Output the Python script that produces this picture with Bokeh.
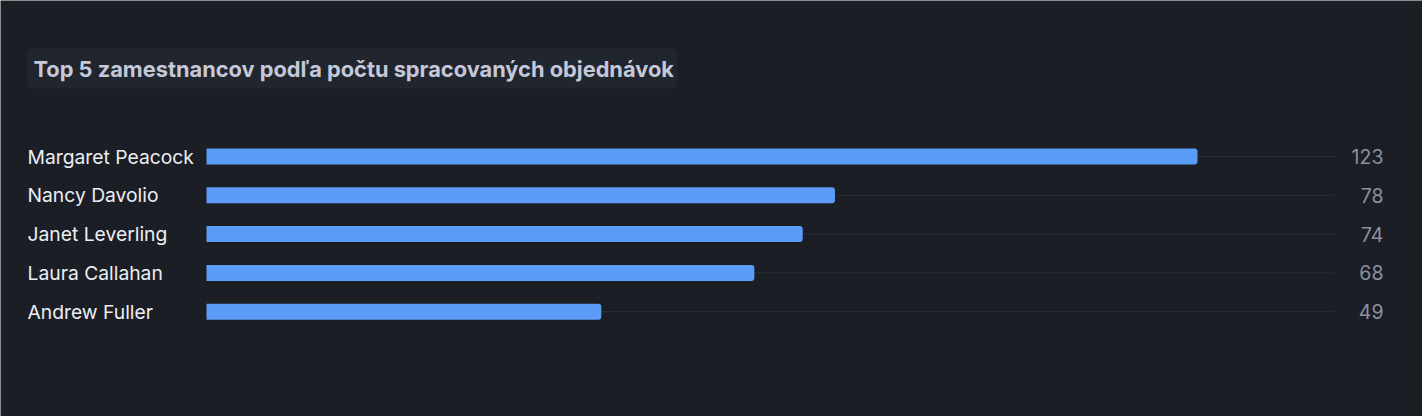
from bokeh.plotting import figure
from bokeh.models import Range1d, ColumnDataSource, BoxAnnotation, Label
from bokeh.core.properties import value
from bokeh.embed import file_html
from bokeh.resources import INLINE

names = ["Margaret Peacock", "Nancy Davolio", "Janet Leverling", "Laura Callahan", "Andrew Fuller"]
orders = [123, 78, 74, 68, 49]
title_text = "Top 5 zamestnancov podľa počtu spracovaných objednávok"
x_max = 140

W, H = 1422, 416
k = 991 / 123.0          # px per unit
x0_px = 206               # px of value 0
row0_px = 156
row_step = 38.8

x_range = Range1d(-x0_px / k, (W - x0_px) / k)
y_range = Range1d((H - row0_px) / row_step, -row0_px / row_step)

BG = "#1b1e25"
p = figure(width=W, height=H, x_range=x_range, y_range=y_range,
           output_backend="svg", toolbar_location=None, min_border=0,
           background_fill_color=BG, border_fill_color=BG, outline_line_color=None)
p.axis.visible = False
p.grid.visible = False

idx = list(range(len(names)))
src = ColumnDataSource(dict(y=idx, v=orders, name=names, lbl=[str(o) for o in orders],
                            x0=[0] * len(names), x1=[x_max] * len(names)))

p.segment(x0="x0", y0="y", x1="x1", y1="y", source=src, line_color="#2a2e36", line_width=1)
p.hbar(y="y", left=0, right="v", height=16 / row_step, source=src,
       fill_color="#5b9cf9", line_color=None, border_radius=(0, 3, 3, 0))

p.text(x="x0", y="y", text="name", source=src, x_offset=-179,
       text_font=value("Inter"), text_font_size="19.3px", text_color="#eceef3",
       text_align="left", text_baseline="middle")
p.text(x="x1", y="y", text="lbl", source=src, x_offset=49,
       text_font=value("Inter"), text_font_size="19.5px", text_color="#8b91a1",
       text_align="right", text_baseline="middle")

box = BoxAnnotation(left=26, right=677, top=H - 48, bottom=H - 88,
                    left_units="screen", right_units="screen", top_units="screen", bottom_units="screen",
                    fill_color="#21252e", fill_alpha=1, line_color=None, border_radius=6)
p.add_layout(box)
title = Label(x=33, y=H - 68, x_units="screen", y_units="screen", text=title_text,
              text_font="Inter", text_font_style="bold", text_font_size="21.8px",
              text_color="#c5c8d8", text_baseline="middle", text_align="left")
p.add_layout(title)

open("out.html", "w").write(file_html(p, INLINE))
